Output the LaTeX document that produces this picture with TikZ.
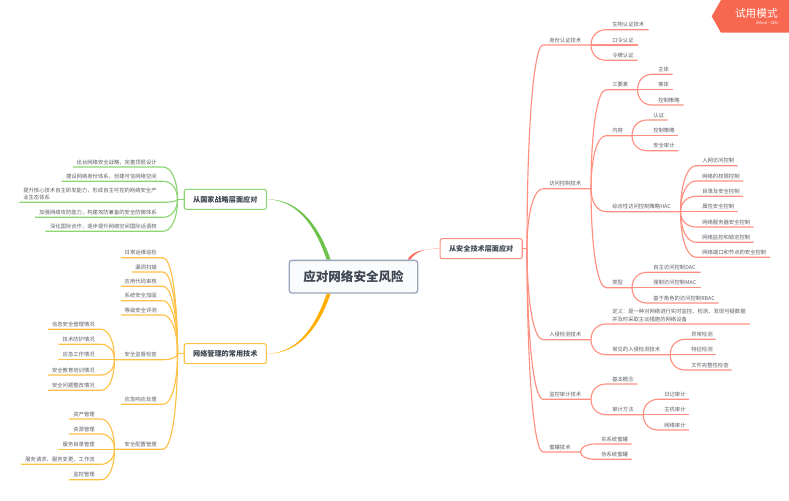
\documentclass[tikz,border=0pt]{standalone}
\usepackage{fontspec}
\setmainfont{Noto Sans CJK SC}
\usetikzlibrary{calc,backgrounds}
\definecolor{grn}{HTML}{8CD672}
\definecolor{grnd}{HTML}{6CC24A}
\definecolor{org}{HTML}{FFC145}
\definecolor{orgd}{HTML}{FFAE00}
\definecolor{red1}{HTML}{FF8F80}
\definecolor{redd}{HTML}{FF6B5E}
\definecolor{txt}{HTML}{5C5F66}
\definecolor{rootb}{HTML}{9AA6BC}
\definecolor{rootf}{HTML}{FAFBFC}
\definecolor{roott}{HTML}{3F4652}
\definecolor{banner}{HTML}{F8674F}
\newcommand\leaffont{\fontsize{4}{5.5}\selectfont}
\tikzset{
  topic/.style={inner xsep=0pt,inner ysep=1.6pt,text=txt,font=\leaffont},
  conn/.style={line width=0.85pt},
  mainbox/.style={draw,line width=0.8pt,rounded corners=1.6pt,fill=white,inner sep=0pt,
    minimum width=61.6pt,minimum height=15pt,text=roott,font=\fontsize{5.35}{7}\selectfont\bfseries},
  rootbox/.style={draw=rootb,fill=rootf,line width=1pt,rounded corners=2pt,inner sep=0pt,
    minimum width=96.3pt,minimum height=24.5pt,text=roott,font=\fontsize{9.4}{12}\selectfont\bfseries},
}
% left-aligned topic, underline x0..x1 at y
\newcommand\leafR[6][4.5pt]{%
  \pgfmathsetlengthmacro\lw{(#4-#3)*0.75pt}%
  \node[topic,text width=\lw,align=left,anchor=south west] (#2) at (#3,#5) {\hspace*{#1}#6};}
% right-aligned topic
\newcommand\leafL[5]{%
  \pgfmathsetlengthmacro\lw{(#3-#2)*0.75pt}%
  \node[topic,text width=\lw,align=right,anchor=south east] (#1) at (#3,#4) {#5\hspace*{4.5pt}};}
\newcommand\linkR[3]{\draw[conn,#1] let \p1=#2,\p2=(#3.south west) in
  (\p1) .. controls (\x1,{\y1+0.62*(\y2-\y1)}) and ({\x1+0.45*(\x2-\x1)},\y2) .. (\p2) -- (#3.south east);}
\newcommand\linkL[3]{\draw[conn,#1] let \p1=#2,\p2=(#3.south east) in
  (\p1) .. controls (\x1,{\y1+0.62*(\y2-\y1)}) and ({\x1+0.45*(\x2-\x1)},\y2) .. (\p2) -- (#3.south west);}
\begin{document}
\begin{tikzpicture}[x=0.75pt,y=-0.75pt]
\useasboundingbox (0,0) rectangle (789,500);
% banner
\coordinate (b1) at (721,0); \coordinate (b2) at (789,0); \coordinate (b3) at (789,32.7);
\coordinate (b4) at (721,32.7); \coordinate (b5) at (711.7,16.3);
\fill[banner] (b1) -- (b2) -- (b3) -- (b4) -- (b5) -- cycle;
\node[anchor=east,inner sep=0pt,text=white,font=\fontsize{8}{10}\selectfont] (trial) at (778,13.7) {试用模式};
\node[anchor=east,inner sep=0pt,text=white,font=\fontsize{2.8}{3}\selectfont] (zen) at (778,22.7) {XMind·ZEN};

% main nodes
\node[rootbox] (root) at (353.5,276.7) {应对网络安全风险};
\node[mainbox,draw=grn] (mg) at (225.3,199.3) {从国家战略层面应对};
\node[mainbox,draw=org] (mo) at (225.3,353.7) {网络管理的常用技术};
\node[mainbox,draw=red1] (mr) at (481.2,248.7) {从安全技术层面应对};
% tapered main branches
\begin{scope}[on background layer]
\fill[white] (0,0) rectangle (789,500);
\fill[grnd] (mg.east) .. controls (295,198.8) and (317,220) .. ($(root.north west)+(42,0)$)
  -- ($(root.north west)+(38,0)$) .. controls (314,222) and (295,200) .. (mg.east);
\fill[orgd] (mo.east) .. controls (295,354.2) and (317,333) .. ($(root.south west)+(42,0)$)
  -- ($(root.south west)+(38,0)$) .. controls (314,331) and (295,353.2) .. (mo.east);
\fill[redd] (mr.west) .. controls (425,248.2) and (415,252) .. ($(root.north east)+(-8,0)$)
  -- ($(root.north east)+(-11,0)$) .. controls (413,250) and (425,249.2) .. (mr.west);
\end{scope}

% junctions
\coordinate (jg) at (177.5,199.3);
\coordinate (jo) at (177.5,353.7);
\coordinate (jr) at (527,248.7);
\draw[conn,grn] (mg.west) -- (jg);
\draw[conn,org] (mo.west) -- (jo);
\draw[conn,red1] (mr.east) -- (jr);

% ---- green
\leafL{g1}{73.3}{163}{167}{出台网络安全战略，完善顶层设计}
\leafL{g2}{62.3}{163}{181.3}{建设网络身份体系，创建可信网络空间}
\pgfmathsetlengthmacro\lw{(163-19.3)*0.75pt}
\node[topic,text width=\lw,align=left,anchor=south west] (g3) at (19.3,202.3)
  {\hspace*{2.8pt}提升核心技术自主研发能力，形成自主可控的网络安全产\\\hspace*{2.8pt}业生态体系};
\leafL{g4}{35.7}{163}{217.3}{加强网络攻防能力，构建攻防兼备的安全防御体系}
\leafL{g5}{46}{163}{231.3}{深化国际合作，逐步提升网络空间国际话语权}
\foreach \tn in {g1,g2,g3,g4,g5} {\linkL{grn}{(jg)}{\tn}}

% ---- orange
\leafL{o1}{121.7}{163}{257.7}{日常运维巡检}
\leafL{o2}{132.3}{163}{272}{漏洞扫描}
\leafL{o3}{121.7}{163}{286.3}{应用代码审核}
\leafL{o4}{121.7}{163}{300.7}{系统安全加固}
\leafL{o5}{121.7}{163}{315}{等级安全评测}
\leafL{o6}{115}{163}{359.7}{安全监督检查}
\leafL{o7}{121.7}{163}{404.3}{应急响应处理}
\leafL{o8}{115}{163}{449.3}{安全配置管理}
\foreach \tn in {o1,o2,o3,o4,o5,o6,o7,o8} {\linkL{org}{(jo)}{\tn}}
\leafL{o61}{48.3}{101}{329.3}{信息安全管理情况}
\leafL{o62}{59}{101}{344.3}{技术防护情况}
\leafL{o63}{59}{101}{359.7}{应急工作情况}
\leafL{o64}{48.3}{101}{375}{安全教育培训情况}
\leafL{o65}{48.3}{101}{390.3}{安全问题整改情况}
\foreach \tn in {o61,o62,o63,o64,o65} {\linkL{org}{(o6.south west)}{\tn}}
\leafL{o81}{69.3}{101}{419}{资产管理}
\leafL{o82}{69.3}{101}{434}{资源管理}
\leafL{o83}{59}{101}{449.3}{服务目录管理}
\leafL{o84}{21.3}{101}{464.3}{服务请求、服务变更、工作流}
\leafL{o85}{69.3}{101}{479.7}{监控管理}
\foreach \tn in {o81,o82,o83,o84,o85} {\linkL{org}{(o8.south west)}{\tn}}

% ---- red level 1
\leafR{r1}{543}{590.5}{45}{身份认证技术}
\leafR{r2}{543}{590.5}{188.7}{访问控制技术}
\leafR{r3}{543}{590.5}{339.7}{入侵检测技术}
\leafR{r4}{543}{590.5}{399.3}{监控审计技术}
\leafR{r5}{543}{580}{452}{蜜罐技术}
\foreach \tn in {r1,r2,r3,r4,r5} {\linkR{red1}{(jr)}{\tn}}
% identity
\leafR{r11}{606}{648}{29.7}{生物认证技术}
\leafR{r12}{606}{637}{45}{口令认证}
\leafR{r13}{606}{637}{60.3}{令牌认证}
\foreach \tn in {r11,r12,r13} {\linkR{red1}{(r1.south east)}{\tn}}
% access
\leafR{r21}{606}{637}{89.7}{三要素}
\leafR{r22}{606}{631.5}{135.7}{内容}
\leafR{r23}{606}{680}{211.7}{综合性访问控制策略HAC}
\leafR{r24}{606}{631.5}{287.7}{类型}
\foreach \tn in {r21,r22,r23,r24} {\linkR{red1}{(r2.south east)}{\tn}}
\leafR{r211}{652}{672}{74.3}{主体}
\leafR{r212}{652}{672}{89.7}{客体}
\leafR{r213}{652}{683}{105}{控制策略}
\foreach \tn in {r211,r212,r213} {\linkR{red1}{(r21.south east)}{\tn}}
\leafR{r221}{647}{667}{120}{认证}
\leafR{r222}{647}{677.7}{135.7}{控制策略}
\leafR{r223}{647}{677.7}{150.7}{安全审计}
\foreach \tn in {r221,r222,r223} {\linkR{red1}{(r22.south east)}{\tn}}
\leafR{r231}{696}{737}{165.7}{入网访问控制}
\leafR{r232}{696}{742.7}{181}{网络的权限控制}
\leafR{r233}{696}{742.7}{196.3}{目录及安全控制}
\leafR{r234}{696}{737}{211.7}{属性安全控制}
\leafR{r235}{696}{753}{227}{网络服务器安全控制}
\leafR{r236}{696}{753}{242.3}{网络监控和锁定控制}
\leafR{r237}{696}{769.3}{257.3}{网络端口和节点的安全控制}
\foreach \tn in {r231,r232,r233,r234,r235,r236,r237} {\linkR{red1}{(r23.south east)}{\tn}}
\leafR{r241}{647}{700}{272.3}{自主访问控制DAC}
\leafR{r242}{647}{700}{287.7}{强制访问控制MAC}
\leafR{r243}{647}{718}{303}{基于角色的访问控制RBAC}
\foreach \tn in {r241,r242,r243} {\linkR{red1}{(r24.south east)}{\tn}}
% IDS
\leafR{r31}{606}{749.3}{324}{定义：是一种对网络进行实时监控、检测、发现可疑数据\\\hspace*{4.5pt}并及时采取主动措施的网络设备}
\leafR{r32}{606}{669.7}{354.7}{常见的入侵检测技术}
\foreach \tn in {r31,r32} {\linkR{red1}{(r3.south east)}{\tn}}
\leafR{r321}{685}{715}{339.3}{异常检测}
\leafR{r322}{685}{715}{354.7}{特征检测}
\leafR{r323}{685}{731}{370}{文件完整性检查}
\foreach \tn in {r321,r322,r323} {\linkR{red1}{(r32.south east)}{\tn}}
% audit
\leafR{r41}{606}{637}{384}{基本概念}
\leafR{r42}{606}{642.7}{414.7}{审计方法}
\foreach \tn in {r41,r42} {\linkR{red1}{(r4.south east)}{\tn}}
\leafR{r421}{658}{688.7}{399.3}{日记审计}
\leafR{r422}{658}{688.7}{414.7}{主机审计}
\leafR{r423}{658}{688.7}{430}{网络审计}
\foreach \tn in {r421,r422,r423} {\linkR{red1}{(r42.south east)}{\tn}}
% honeypot
\leafR{r51}{595}{631}{444}{实系统蜜罐}
\leafR{r52}{595}{631}{459.3}{伪系统蜜罐}
\foreach \tn in {r51,r52} {\linkR{red1}{(r5.south east)}{\tn}}
\end{tikzpicture}
\end{document}
